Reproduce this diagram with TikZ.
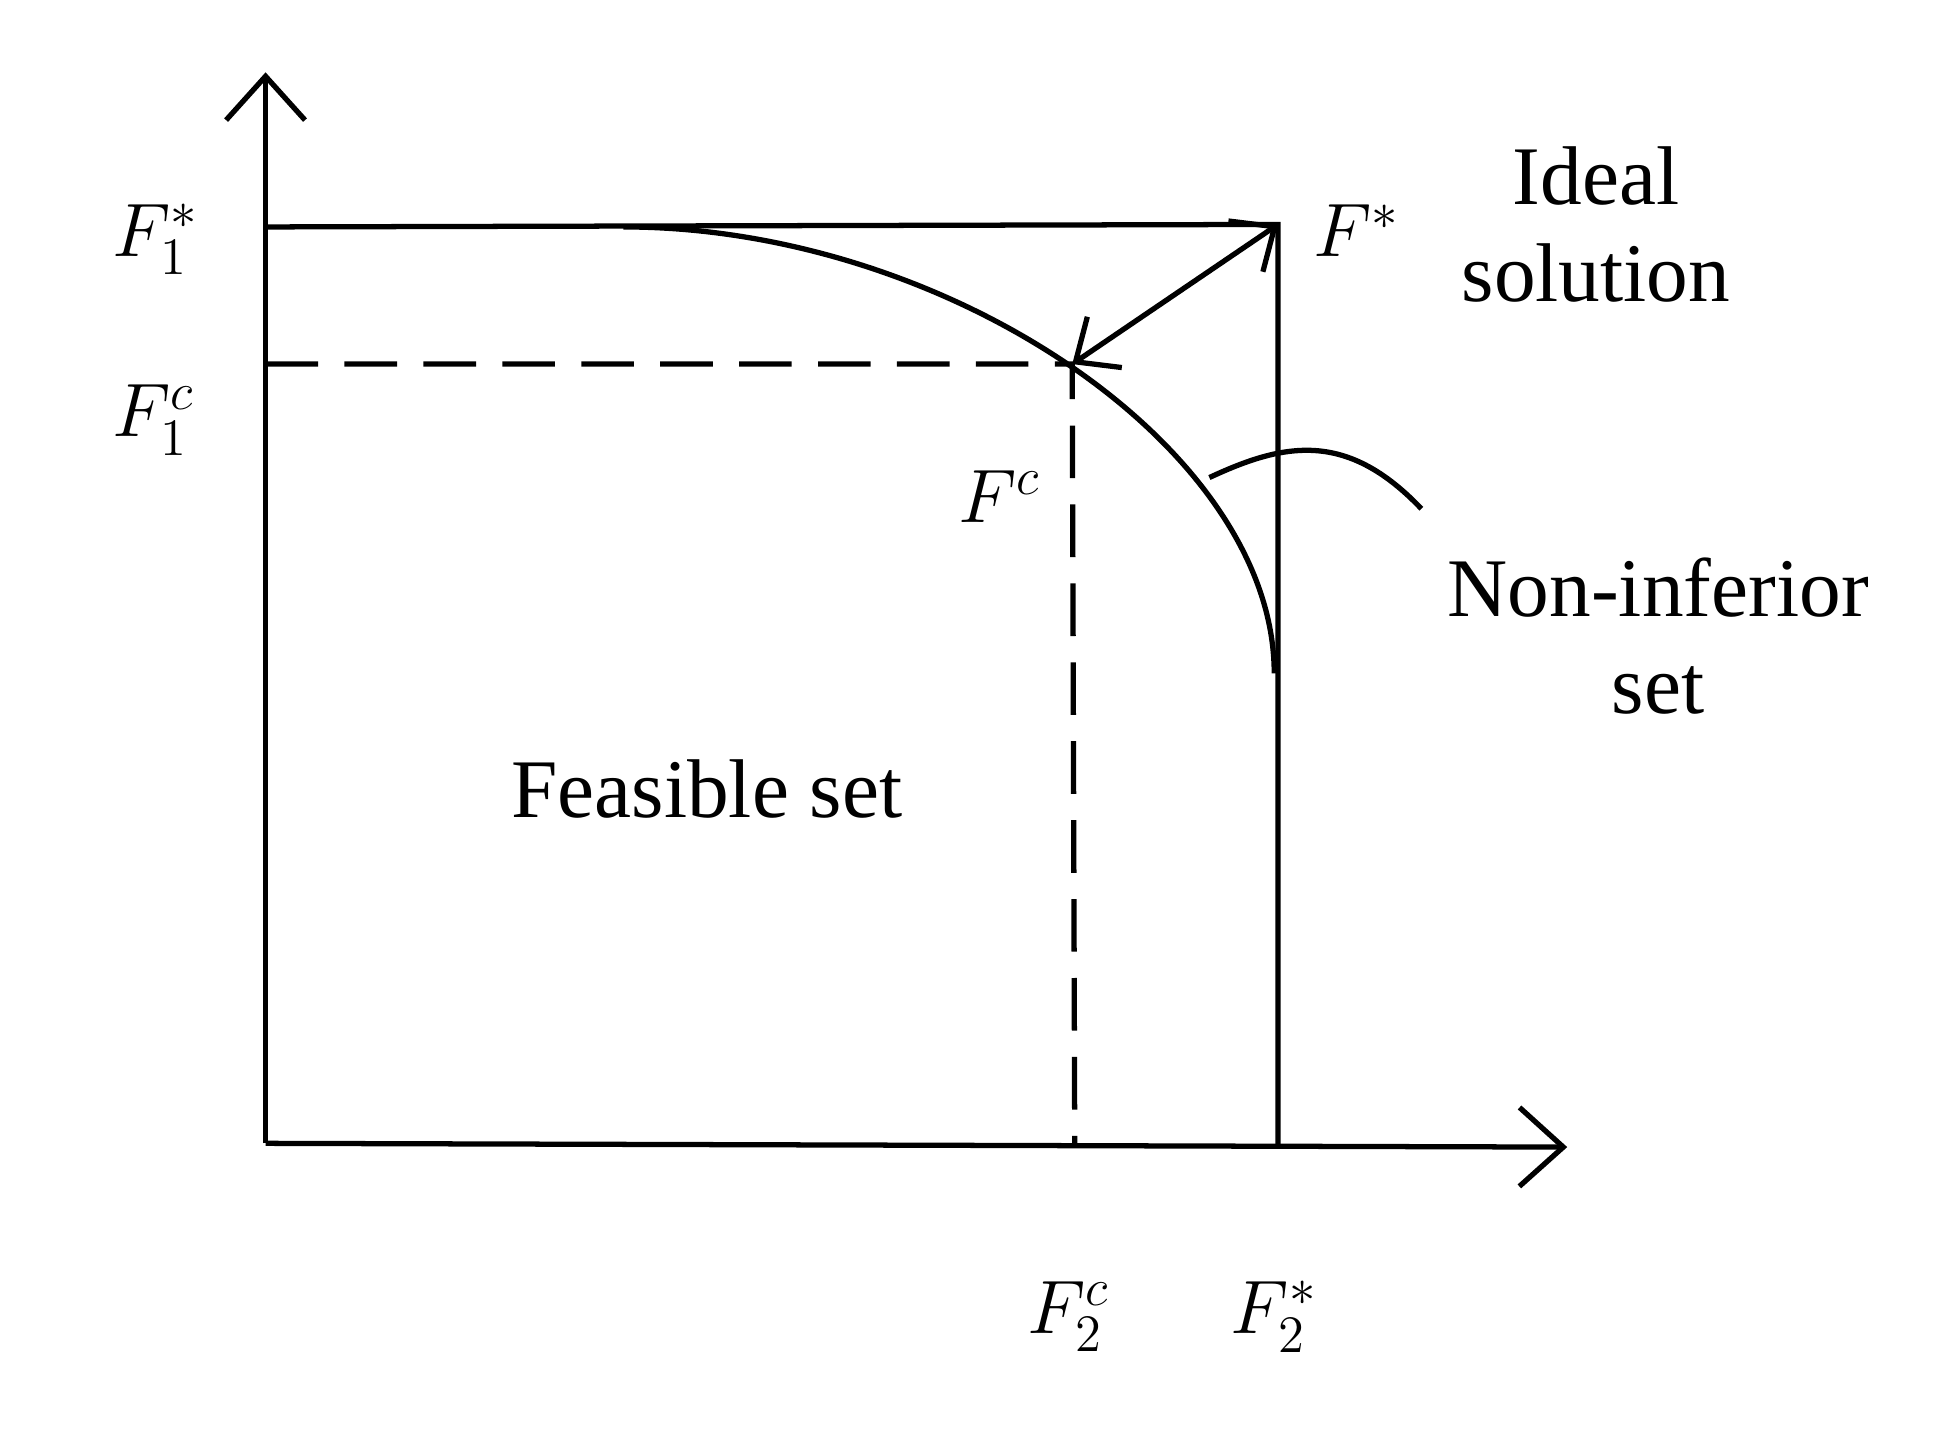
\documentclass[tikz,border=0pt]{standalone}
\usepackage{fontspec}
\setmainfont{Liberation Serif}
\usetikzlibrary{arrows.meta}
\begin{document}
\begin{tikzpicture}[x=0.01cm,y=-0.01cm,
  ln/.style={line width=1.2pt},
  ax/.style={ln,-{Straight Barb[length=10pt,width=18pt,line width=1.2pt]}},
  lbl/.style={font=\fontsize{19}{22}\selectfont},
  mlbl/.style={font=\fontsize{17}{20}\selectfont}]
\useasboundingbox (0,0) rectangle (1560,1153);
\coordinate (O) at (213,917);
\coordinate (Ytop) at (213,58);
\coordinate (Xend) at (1257,920);
\coordinate (TL) at (213,182);
\coordinate (Fs) at (1025,180);
\coordinate (BR) at (1025,918);
\coordinate (C0) at (500,182);
\coordinate (Fc) at (860,292);
\coordinate (Lc) at (213,292);
\coordinate (Bc) at (862,918);
\draw[ax] (O) -- (Ytop);
\draw[ax] (O) -- (Xend);
\draw[ln] (TL) -- (Fs) -- (BR);
\draw[ln] (C0) .. controls (760,182) and (1022,360) .. (1022,540);
\draw[ln,dashed,dash pattern=on 12pt off 6pt] (Lc) -- (Fc) -- (Bc);
\draw[ln,{Straight Barb[length=8pt,width=14pt,line width=1.2pt]}-{Straight Barb[length=8pt,width=14pt,line width=1.2pt]}] (Fc) -- (Fs);
\draw[ln] (970,383) .. controls (1030,355) and (1080,345) .. (1140,408);
\node[mlbl] (f1s) at (125,192) {$F_1^*$};
\node[mlbl] (f1c) at (123,337) {$F_1^c$};
\node[mlbl] (fs) at (1088,185) {$F^*$};
\node[mlbl] (fc) at (802,398) {$F^c$};
\node[mlbl] (f2c) at (857,1056) {$F_2^c$};
\node[mlbl] (f2s) at (1022,1056) {$F_2^*$};
\node[lbl,align=center] (ideal) at (1280,180) {Ideal\\solution};
\node[lbl,align=center] (nis) at (1330,510) {Non-inferior\\set};
\node[lbl] (feas) at (567,633) {Feasible set};
\end{tikzpicture}
\end{document}
